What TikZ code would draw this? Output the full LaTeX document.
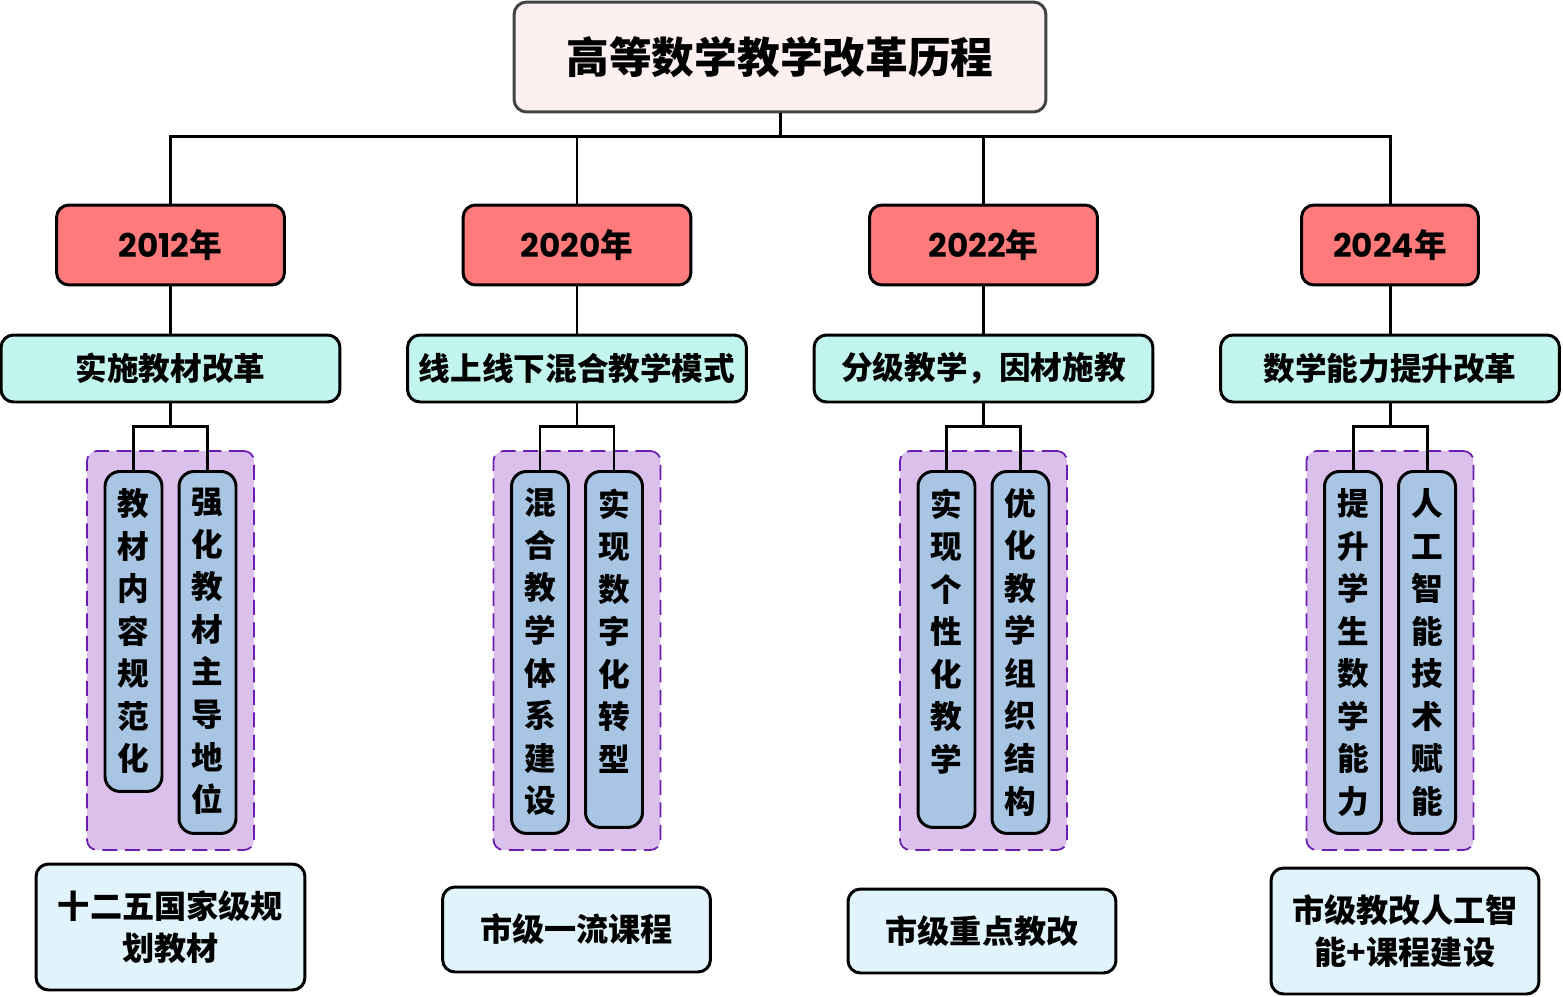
\documentclass[tikz,border=0pt]{standalone}
\usepackage{fontspec}
\newfontfamily\cjk{Noto Sans CJK SC}
\newfontfamily\latin{Poppins}

\definecolor{rootfill}{HTML}{FDF0F0}
\definecolor{rootdraw}{HTML}{444444}
\definecolor{yearfill}{HTML}{FF7B7B}
\definecolor{themefill}{HTML}{C3F5EF}
\definecolor{groupfill}{HTML}{DCC0EC}
\definecolor{groupdraw}{HTML}{6A1DB0}
\definecolor{leaffill}{HTML}{A8C6E4}
\definecolor{resfill}{HTML}{E1F4FC}

\newcommand{\vtxt}[2]{\parbox[c][#1][t]{1em}{\centering\vspace*{0.34cm}#2\par}}

\tikzset{
  box/.style={draw=black,line width=1.7pt,rounded corners=0.25cm,inner sep=0pt},
  rootbox/.style={box,draw=rootdraw,fill=rootfill,minimum width=10.64cm,minimum height=2.2cm,
    font=\cjk\bfseries\fontsize{24.3}{28}\selectfont},
  yearbox/.style={box,fill=yearfill,minimum width=4.56cm,minimum height=1.6cm,
    font=\latin\bfseries\fontsize{18.6}{22}\selectfont},
  themebox/.style={box,fill=themefill,minimum width=6.78cm,minimum height=1.34cm,
    font=\cjk\bfseries\fontsize{18}{21}\selectfont},
  groupbox/.style={draw=groupdraw,fill=groupfill,dash pattern=on 0.3cm off 0.15cm,line width=1pt,
    rounded corners=0.2cm,minimum width=3.34cm,minimum height=7.98cm,inner sep=0pt},
  leafbox/.style={box,fill=leaffill,anchor=north,minimum width=1.14cm,rounded corners=0.3cm,
    font=\cjk\bfseries\fontsize{18}{24.2}\selectfont},
  resbox/.style={box,fill=resfill,minimum width=5.36cm,align=center,
    font=\cjk\bfseries\fontsize{18.3}{24.2}\selectfont},
  conn/.style={line width=1.7pt}
}

\begin{document}
\begin{tikzpicture}[x=0.02cm,y=-0.02cm]
\useasboundingbox (0,0) rectangle (1563,997);

\node[rootbox] (root) at (780,57) {高等数学教学改革历程};

\node[yearbox] (y1) at (170.5,245) {2012{\cjk 年}};
\node[yearbox] (y2) at (577,245) {2020{\cjk 年}};
\node[yearbox] (y3) at (983.5,245) {2022{\cjk 年}};
\node[yearbox,minimum width=3.54cm] (y4) at (1390,245) {2024{\cjk 年}};

\node[themebox] (t1) at (170.5,368.5) {实施教材改革};
\node[themebox] (t2) at (577,368.5) {线上线下混合教学模式};
\node[themebox] (t3) at (983.5,368.5) {分级教学，因材施教};
\node[themebox] (t4) at (1390,368.5) {数学能力提升改革};

\node[groupbox] (g1) at (170.5,650.5) {};
\node[groupbox] (g2) at (577,650.5) {};
\node[groupbox] (g3) at (983.5,650.5) {};
\node[groupbox] (g4) at (1390,650.5) {};

\node[leafbox] (l1a) at (133.5,470) {\vtxt{6.4cm}{教\\材\\内\\容\\规\\范\\化}};
\node[leafbox] (l1b) at (207.5,470) {\vtxt{7.24cm}{强\\化\\教\\材\\主\\导\\地\\位}};
\node[leafbox] (l2a) at (540,470) {\vtxt{7.24cm}{混\\合\\教\\学\\体\\系\\建\\设}};
\node[leafbox] (l2b) at (614,470) {\vtxt{7.12cm}{实\\现\\数\\字\\化\\转\\型}};
\node[leafbox] (l3a) at (946.5,470) {\vtxt{7.12cm}{实\\现\\个\\性\\化\\教\\学}};
\node[leafbox] (l3b) at (1020.5,470) {\vtxt{7.24cm}{优\\化\\教\\学\\组\\织\\结\\构}};
\node[leafbox] (l4a) at (1353,470) {\vtxt{7.24cm}{提\\升\\学\\生\\数\\学\\能\\力}};
\node[leafbox] (l4b) at (1427,470) {\vtxt{7.24cm}{人\\工\\智\\能\\技\\术\\赋\\能}};

\node[resbox,minimum width=5.38cm,minimum height=2.52cm] (r1) at (170.5,927) {十二五国家级规\\划教材};
\node[resbox,minimum height=1.7cm] (r2) at (576.5,929.5) {市级一流课程};
\node[resbox,minimum height=1.68cm] (r3) at (982,931) {市级重点教改};
\node[resbox,minimum height=2.52cm] (r4) at (1405,931) {市级教改人工智\\能+课程建设};

\draw[conn] (root.south) -- ++(0,23) -| (y1.north);
\draw[conn] (root.south) -- ++(0,23) -| (y2.north);
\draw[conn] (root.south) -- ++(0,23) -| (y3.north);
\draw[conn] (root.south) -- ++(0,23) -| (y4.north);

\draw[conn] (y1) -- (t1);
\draw[conn] (y2) -- (t2);
\draw[conn] (y3) -- (t3);
\draw[conn] (y4) -- (t4);

\draw[conn] (t1.south) -- ++(0,23) -| (l1a.north);
\draw[conn] (t1.south) -- ++(0,23) -| (l1b.north);
\draw[conn] (t2.south) -- ++(0,23) -| (l2a.north);
\draw[conn] (t2.south) -- ++(0,23) -| (l2b.north);
\draw[conn] (t3.south) -- ++(0,23) -| (l3a.north);
\draw[conn] (t3.south) -- ++(0,23) -| (l3b.north);
\draw[conn] (t4.south) -- ++(0,23) -| (l4a.north);
\draw[conn] (t4.south) -- ++(0,23) -| (l4b.north);
\end{tikzpicture}
\end{document}
